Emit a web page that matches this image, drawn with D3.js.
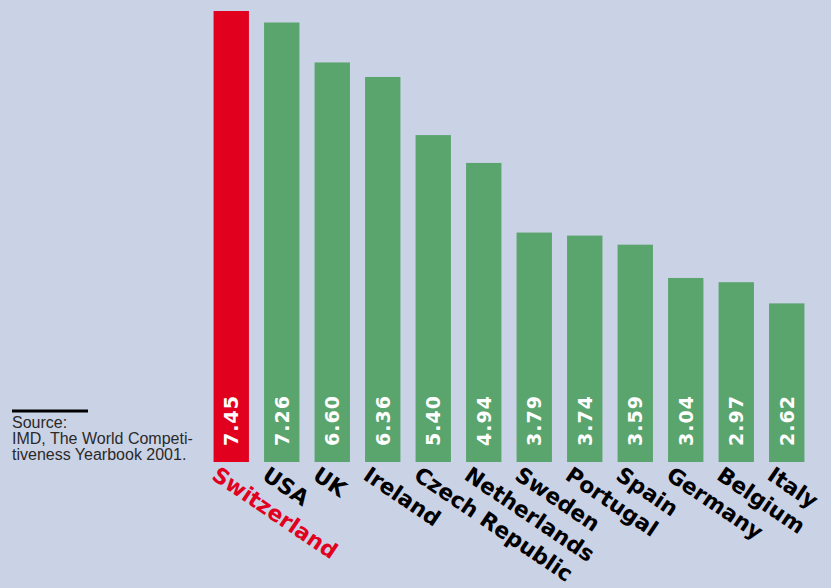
<!DOCTYPE html>
<html>
<head>
<meta charset="utf-8">
<script src="https://cdn.jsdelivr.net/npm/d3@7"></script>
<style>
  html, body { margin: 0; padding: 0; background: #cad2e6; }
  svg { display: block; }
</style>
</head>
<body>
<svg id="chart" width="831" height="588"></svg>
<script>
// Competitiveness scores, 2001
const countries = ["Switzerland", "USA", "UK", "Ireland", "Czech Republic", "Netherlands",
                   "Sweden", "Portugal", "Spain", "Germany", "Belgium", "Italy"];
const scores = [7.45, 7.26, 6.60, 6.36, 5.40, 4.94, 3.79, 3.74, 3.59, 3.04, 2.97, 2.62];
const highlight = "Switzerland";
const sourceLines = ["Source:", "IMD, The World Competi-", "tiveness Yearbook 2001."];

const W = 831, H = 588;
const svg = d3.select("#chart");
svg.append("rect").attr("width", W).attr("height", H).attr("fill", "#cad2e6");

const baseY = 462;
const x = d3.scaleBand().domain(countries).range([206, 812]).paddingInner(0.3).paddingOuter(0.15);
const y = d3.scaleLinear().domain([0, 7.45]).range([baseY, 11]);

const RED = "#e1001e", GREEN = "#5aa46d";
const data = countries.map((c, i) => ({ c, v: scores[i] }));

svg.append("g").selectAll("rect").data(data).join("rect")
  .attr("x", d => x(d.c))
  .attr("y", d => y(d.v))
  .attr("width", x.bandwidth())
  .attr("height", d => y(0) - y(d.v))
  .attr("fill", d => d.c === highlight ? RED : GREEN);

// value labels inside bars, reading upward
svg.append("g").selectAll("text").data(data).join("text")
  .attr("transform", d => `translate(${x(d.c) + x.bandwidth() / 2 + 7},${baseY - 16}) rotate(-90)`)
  .attr("fill", "#fff")
  .attr("font-family", "DejaVu Sans, sans-serif")
  .attr("font-weight", "bold")
  .attr("font-size", 19)
  .attr("letter-spacing", 1)
  .text(d => d.v.toFixed(2));

// category labels, slanted
svg.append("g").selectAll("text").data(data).join("text")
  .attr("transform", d => `translate(${x(d.c) + 6},${baseY + 3}) rotate(34)`)
  .attr("dy", "0.75em")
  .attr("fill", d => d.c === highlight ? RED : "#000")
  .attr("font-family", "DejaVu Sans, sans-serif")
  .attr("font-weight", "bold")
  .attr("font-size", 21.8)
  .text(d => d.c);

// source note
svg.append("line").attr("x1", 12).attr("x2", 88).attr("y1", 411).attr("y2", 411)
  .attr("stroke", "#000").attr("stroke-width", 3);
svg.append("g").selectAll("text").data(sourceLines).join("text")
  .attr("x", 12).attr("y", (d, i) => 428 + i * 16)
  .attr("fill", "#2a2a2a")
  .attr("font-family", "Liberation Sans, Arial, sans-serif")
  .attr("font-size", 16)
  .text(d => d);
</script>
</body>
</html>
